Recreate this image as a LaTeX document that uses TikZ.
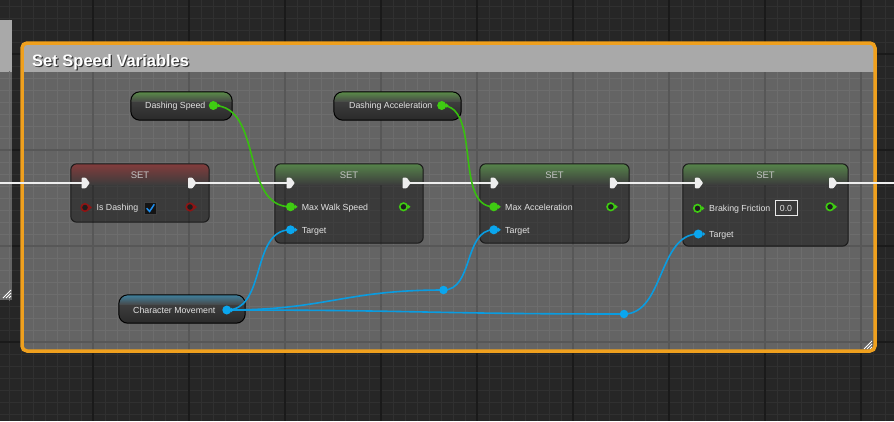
\documentclass[tikz,border=0pt]{standalone}
\usepackage{fontspec}
\setmainfont{Liberation Sans}
\usetikzlibrary{fit}
\definecolor{bgd}{HTML}{262626}
\definecolor{gminO}{HTML}{303030}
\definecolor{gmajO}{HTML}{1A1A1A}
\definecolor{cfill}{HTML}{646464}
\definecolor{gminI}{HTML}{6D6D6D}
\definecolor{gmajI}{HTML}{575757}
\definecolor{chead}{HTML}{A9A9A9}
\definecolor{corange}{HTML}{EFA01E}
\definecolor{pgreen}{HTML}{3FCC12}
\definecolor{wgreen}{HTML}{38BF0F}
\definecolor{pblue}{HTML}{0AA6EE}
\definecolor{wblue}{HTML}{0A9CE0}
\definecolor{pred}{HTML}{8E1414}
\definecolor{pindark}{HTML}{1E1E1E}
\definecolor{hdrbot}{HTML}{3C3C3C}
\definecolor{glowG}{HTML}{56844A}
\definecolor{glowR}{HTML}{833C3C}
\definecolor{vglowG}{HTML}{5A8C48}
\definecolor{vglowB}{HTML}{3F819E}
\definecolor{vmid}{HTML}{474747}
\definecolor{vbot}{HTML}{2A2A2A}
\definecolor{labc}{HTML}{E2E2E2}
\definecolor{setc}{HTML}{C4C4C4}
\definecolor{execc}{HTML}{EEEEEE}
\definecolor{checkb}{HTML}{1E90F0}
\definecolor{valfill}{HTML}{3A3A3A}

\pgfdeclarelayer{bglayer}
\pgfdeclarelayer{wirelayer}
\pgfsetlayers{bglayer,wirelayer,main}

\newcommand\pinfont{\fontsize{8.8}{10}\selectfont}
\tikzset{
  pinlabel/.style={anchor=base west, inner sep=0pt, font=\pinfont, text=labc},
  settitle/.style={anchor=base, inner sep=0pt, font=\fontsize{9.5}{11}\selectfont, text=setc},
  datapin/.style={circle, fill=#1, minimum size=9pt, inner sep=0pt},
  ringpin/.style={circle, draw=#1, fill=pindark, line width=1.6pt, minimum size=7.5pt, inner sep=0pt},
  knot/.style={circle, fill=pblue, minimum size=8.5pt, inner sep=0pt},
  execwire/.style={draw=execc, line width=2.4pt},
  gwire/.style={draw=wgreen, line width=1.6pt},
  bwire/.style={draw=wblue, line width=1.6pt},
  hatch/.style={draw=white, line width=0.8pt},
}

\newcommand\gridset[2]{%
  \foreach \gx in {9,21,...,897} {\draw[#1, line width=0.9pt] (\gx,0) -- (\gx,421);}
  \foreach \gy in {6,18,...,426} {\draw[#1, line width=0.9pt] (0,\gy) -- (894,\gy);}
  \foreach \gx in {93,189,...,894} {\draw[#2, line width=1.3pt] (\gx,0) -- (\gx,421);}
  \foreach \gy in {54,150,...,438} {\draw[#2, line width=1.3pt] (0,\gy) -- (894,\gy);}
}

\newcommand\setnode[6]{%
  \node[fit={(#2,#3) (#4,#5)}, inner sep=0pt, rounded corners=6pt, fill=black, fill opacity=0.42] (#1) {};
  \begin{scope}
    \clip[rounded corners=6pt] (#1.north west) rectangle (#1.south east);
    \shade[top color=#6, bottom color=hdrbot] (#1.north west) rectangle ([yshift=-21pt]#1.north east);
  \end{scope}
  \draw[black!90, line width=1pt, rounded corners=6pt] (#1.north west) rectangle (#1.south east);
}

\newcommand\varnode[6]{%
  \node[fit={(#2,#3) (#4,#5)}, inner sep=0pt] (#1) {};
  \begin{scope}
    \clip[rounded corners=9pt] (#1.north west) rectangle (#1.south east);
    \shade[top color=vmid, bottom color=vbot] (#1.north west) rectangle (#1.south east);
    \shade[top color=#6, bottom color=vmid] (#1.north west) rectangle ([yshift=-10pt]#1.north east);
  \end{scope}
  \draw[black, line width=1pt, rounded corners=9pt] (#1.north west) rectangle (#1.south east);
}

\newcommand\execpin[3]{%
  \coordinate (#1) at (#2,#3);
  \fill[execc, rounded corners=0.7pt] ([shift={(-3.6,-5.3)}]#1) -- ([shift={(0.6,-5.3)}]#1) -- ([shift={(4.6,0)}]#1) -- ([shift={(0.6,5.3)}]#1) -- ([shift={(-3.6,5.3)}]#1) -- cycle;
}
\newcommand\pintip[2]{%
  \fill[#2] ([shift={(4.2,-2.3)}]#1.center) -- ([shift={(7,0)}]#1.center) -- ([shift={(4.2,2.3)}]#1.center) -- cycle;
}

\begin{document}
\begin{tikzpicture}[x=1pt,y=-1pt]
\useasboundingbox (0,0) rectangle (894,421);

\begin{pgfonlayer}{bglayer}
  % canvas
  \fill[bgd] (0,0) rectangle (894,421);
  \gridset{gminO}{gmajO}

  % left comment (partially visible)
  \node[fit={(-6,20) (11.5,72)}, inner sep=0pt, fill=chead] (lchead) {};
  \node[fit={(-6,72) (11.5,300)}, inner sep=0pt, fill=cfill] (lcbody) {};
  \begin{scope}
    \clip (lcbody.north west) rectangle (lcbody.south east);
    \gridset{gminI}{gmajI}
  \end{scope}
  \draw[hatch] (3,298) -- (11,290) (6,298) -- (11,293) (9,298) -- (11,296);

  % main comment
  \fill[cfill, rounded corners=4pt] (22,43) rectangle (875,351);
  \begin{scope}
    \clip (23,44) rectangle (874,350);
    \gridset{gminI}{gmajI}
  \end{scope}
  \fill[chead] (23.5,44.5) rectangle (873.5,72);
  \draw[hatch] (864,349) -- (872,341) (867,349) -- (872,344) (870,349) -- (872,347);
  \node[fit={(22,43) (875,351)}, inner sep=0pt, draw=corange, line width=3.5pt, rounded corners=5pt] (cmt) {};

  % SET nodes
  \setnode{n1}{71}{164}{209}{222}{glowR}
  \setnode{n2}{275}{164}{423}{243}{glowG}
  \setnode{n3}{480}{164}{629}{243}{glowG}
  \setnode{n4}{683}{164}{848}{246}{glowG}

  % variable getter nodes
  \varnode{vds}{131}{92}{232}{120}{vglowG}
  \varnode{vda}{334}{92}{461}{120}{vglowG}
  \varnode{vcm}{119}{295}{245}{323}{vglowB}
\end{pgfonlayer}

% title
\node[anchor=base west, inner sep=0pt, font=\bfseries\fontsize{16.5}{19}\selectfont, text=black!80] (titleshadow) at (33.2,67.8) {Set Speed Variables};
\node[anchor=base west, inner sep=0pt, font=\bfseries\fontsize{16.5}{19}\selectfont, text=white] (title) at (32,66.6) {Set Speed Variables};

% SET titles
\node[settitle] (n1t) at (140,178.5) {SET};
\node[settitle] (n2t) at (349,178.5) {SET};
\node[settitle] (n3t) at (554.5,178.5) {SET};
\node[settitle] (n4t) at (765.5,178.5) {SET};

% exec pins
\coordinate (exL) at (0,183);
\coordinate (exR) at (894,183);
\execpin{n1ein}{85.2}{183}
\execpin{n1eout}{191.8}{183}
\execpin{n2ein}{290.2}{183}
\execpin{n2eout}{406.2}{183}
\execpin{n3ein}{494.2}{183}
\execpin{n3eout}{613.5}{183}
\execpin{n4ein}{698.5}{183}
\execpin{n4eout}{832.8}{183}

% node 1: Is Dashing
\node[ringpin=pred] (n1bin) at (85,207.5) {};
\pintip{n1bin}{pred}
\node[pinlabel] (n1lab) at (96.5,210.8) {Is Dashing};
\node[fit={(144,202) (156.5,214)}, inner sep=0pt, fill=black!92, draw=black!75, line width=0.6pt] (chk) {};
\draw[checkb, line width=1.5pt] (146.6,208.2) -- (149.6,211.4) -- (154.3,204.3);
\node[ringpin=pred] (n1bout) at (190,207) {};
\pintip{n1bout}{pred}

% node 2: Max Walk Speed
\node[datapin=pgreen] (n2v) at (290.5,206.8) {};
\pintip{n2v}{pgreen}
\node[pinlabel] (n2vl) at (301.7,210.1) {Max Walk Speed};
\node[ringpin=pgreen] (n2vo) at (403.5,206.8) {};
\pintip{n2vo}{pgreen}
\node[datapin=pblue] (n2tg) at (290.5,229.8) {};
\pintip{n2tg}{pblue}
\node[pinlabel] (n2tl) at (301.7,233.1) {Target};

% node 3: Max Acceleration
\node[datapin=pgreen] (n3v) at (493.8,206.8) {};
\pintip{n3v}{pgreen}
\node[pinlabel] (n3vl) at (505,210.1) {Max Acceleration};
\node[ringpin=pgreen] (n3vo) at (610.8,206.8) {};
\pintip{n3vo}{pgreen}
\node[datapin=pblue] (n3tg) at (493.8,229.8) {};
\pintip{n3tg}{pblue}
\node[pinlabel] (n3tl) at (505,233.1) {Target};

% node 4: Braking Friction
\node[ringpin=pgreen] (n4v) at (697.5,208.3) {};
\pintip{n4v}{pgreen}
\node[pinlabel] (n4vl) at (709,211.6) {Braking Friction};
\node[draw=labc!75, fill=valfill, line width=0.7pt, minimum width=22pt, minimum height=15pt, inner sep=0pt, font=\pinfont, text=labc] (n4val) at (786,208.3) {0.0};
\node[ringpin=pgreen] (n4vo) at (830,206.8) {};
\pintip{n4vo}{pgreen}
\node[datapin=pblue] (n4tg) at (698.3,234) {};
\pintip{n4tg}{pblue}
\node[pinlabel] (n4tl) at (709,237.3) {Target};

% getter nodes
\node[pinlabel] (vdsl) at (145,108.3) {Dashing Speed};
\node[datapin=pgreen] (vdsp) at (213.3,105.5) {};
\pintip{vdsp}{pgreen}
\node[pinlabel] (vdal) at (349,108.3) {Dashing Acceleration};
\node[datapin=pgreen] (vdap) at (441.7,105.5) {};
\pintip{vdap}{pgreen}
\node[pinlabel] (vcml) at (133,313.3) {Character Movement};
\node[datapin=pblue] (vcmp) at (226.8,310) {};
\pintip{vcmp}{pblue}

% reroute knots
\node[knot] (k1) at (443.5,290) {};
\node[knot] (k2) at (624,314) {};

% wires
\begin{pgfonlayer}{wirelayer}
  \draw[execwire] (exL) -- (n1ein);
  \draw[execwire] (n1eout) -- (n2ein);
  \draw[execwire] (n2eout) -- (n3ein);
  \draw[execwire] (n3eout) -- (n4ein);
  \draw[execwire] (n4eout) -- (exR);

  \draw[gwire] (vdsp.center) .. controls +(50,0) and +(-50,0) .. (n2v.center);
  \draw[gwire] (vdap.center) .. controls +(40,0) and +(-40,0) .. (n3v.center);

  \draw[bwire] (vcmp.center) .. controls +(40,0) and +(-40,0) .. (n2tg.center);
  \draw[bwire] (vcmp.center) .. controls +(100,0) and +(-100,0) .. (k1.center);
  \draw[bwire] (k1.center) .. controls +(30,0) and +(-30,0) .. (n3tg.center);
  \draw[bwire] (vcmp.center) .. controls +(190,0) and +(-190,0) .. (k2.center);
  \draw[bwire] (k2.center) .. controls +(40,0) and +(-40,0) .. (n4tg.center);
\end{pgfonlayer}
\end{tikzpicture}
\end{document}
